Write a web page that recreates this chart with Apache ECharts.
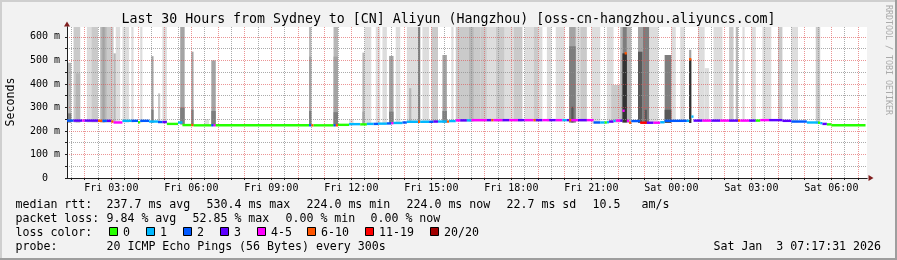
<!DOCTYPE html>
<html><head><meta charset="utf-8">
<script src="https://cdn.jsdelivr.net/npm/echarts@6/dist/echarts.min.js"></script>
<style>html,body{margin:0;padding:0;background:#f2f2f2}#c{width:897px;height:260px}</style>
</head><body><div id="c"></div><script>
// ---------- data (time in minutes since Fri 00:00, values in ms) ----------
const titleText = 'Last 30 Hours from Sydney to [CN] Aliyun (Hangzhou) [oss-cn-hangzhou.aliyuncs.com]';
const xTickValues = [180, 360, 540, 720, 900, 1080, 1260, 1440, 1620, 1800];
const xTickLabels = ['Fri 03:00','Fri 06:00','Fri 09:00','Fri 12:00','Fri 15:00','Fri 18:00','Fri 21:00','Sat 00:00','Sat 03:00','Sat 06:00'];
const yTickValues = [0, 100, 200, 300, 400, 500, 600];
const yTickLabels = ['0  ', '100 m', '200 m', '300 m', '400 m', '500 m', '600 m'];
const lossLabels = ['0', '1', '2', '3', '4-5', '6-10', '11-19', '20/20'];
const lossColors = ['#26ff00', '#00b8ff', '#0059ff', '#5e00ff', '#ff00ff', '#ff5500', '#ff0000', '#a10000'];
const smokeShades = ['#dddddd', '#cacaca', '#b7b7b7', '#a4a4a4', '#7e7e7e', '#585858', '#323232'];

// median rtt runs: [startMin, endMin, medianMs, lossClass]
const medianRuns = [
[80,95,244,2],[95,115,244,3],[115,120,244,4],[120,150,244,3],[150,160,243,5],[160,170,243,2],
[170,180,243,3],[180,185,240,5],[185,205,236,4],[205,225,243,1],[225,240,243,2],[240,245,237,0],
[245,265,243,2],[265,285,240,1],[285,295,238,2],[295,305,238,3],[305,330,230,0],[330,340,236,1],
[340,360,225,0],[360,365,225,5],[365,405,224,0],[405,410,224,2],[410,415,224,4],[415,625,224,0],
[625,630,224,2],[630,635,224,5],[635,680,224,0],[680,685,224,2],[685,690,224,5],[690,715,226,0],
[715,740,229,1],[740,755,228,0],[755,770,230,1],[770,780,230,2],[780,800,231,1],[800,810,232,2],
[810,815,233,4],[815,835,234,1],[835,845,236,2],[845,870,239,1],[870,875,239,5],[875,895,239,1],
[895,905,239,2],[905,915,240,3],[915,935,240,1],[935,940,240,5],[940,955,242,1],[955,965,245,4],
[965,980,245,3],[980,990,245,1],[990,1025,246,4],[1025,1035,246,3],[1035,1040,246,5],[1040,1060,246,4],
[1060,1075,246,3],[1075,1095,246,4],[1095,1110,246,3],[1110,1130,246,4],[1130,1135,246,5],[1135,1150,246,3],
[1150,1165,246,4],[1165,1180,246,3],[1180,1195,246,4],[1195,1205,246,1],[1205,1210,246,3],[1210,1215,246,5],
[1215,1230,246,4],[1230,1250,246,3],[1250,1265,246,4],[1265,1280,236,2],[1280,1290,236,1],[1290,1295,236,0],
[1295,1300,237,1],[1300,1310,240,3],[1310,1315,243,1],[1315,1325,244,4],[1325,1330,244,3],[1330,1335,286,4],
[1335,1340,530,5],[1340,1345,243,4],[1345,1350,235,5],[1350,1370,242,2],[1370,1385,235,6],[1385,1400,235,3],
[1400,1415,235,4],[1415,1425,237,1],[1425,1475,243,2],[1475,1480,243,1],[1480,1485,505,5],[1485,1490,261,1],
[1490,1510,244,3],[1510,1530,244,4],[1530,1550,244,3],[1550,1570,244,4],[1570,1590,244,3],[1590,1595,244,5],
[1595,1615,244,4],[1615,1630,244,3],[1630,1640,244,0],[1640,1660,246,4],[1660,1690,246,3],[1690,1710,243,3],
[1710,1745,240,2],[1745,1770,236,1],[1770,1775,235,0],[1775,1780,233,1],[1780,1790,230,3],[1790,1800,228,0],
[1800,1877,224,0]
];

// smoke bands: [startMin, endMin, lowMs, highMs, shade]
const smokeBands = [
[80,90,236,490,2],[80,90,236,275,4],[95,110,236,642,1],[100,110,236,445,2],[125,135,236,642,0],
[135,150,236,642,1],[155,170,236,642,2],[160,165,236,642,3],[170,185,236,642,1],[185,190,236,530,2],
[190,200,234,642,0],[205,220,236,642,0],[225,230,236,642,0],[245,250,236,642,0],[270,275,234,518,3],
[270,275,234,290,4],[285,290,234,360,1],[295,305,232,642,0],[335,345,228,642,3],[335,345,228,300,4],
[360,365,222,537,3],[360,365,222,290,4],[390,400,222,250,0],[405,415,222,500,3],[405,415,222,285,4],
[625,630,222,642,2],[625,630,222,516,3],[625,630,222,285,4],[680,690,222,642,2],[680,690,222,516,3],
[680,690,222,280,4],[715,725,224,250,0],[745,750,226,533,2],[745,750,226,282,3],[750,765,226,642,0],
[775,785,228,642,0],[790,800,228,642,0],[805,815,230,519,3],[805,815,230,282,4],[820,830,230,642,0],
[845,875,234,642,0],[850,855,234,382,2],[870,875,234,642,4],[880,895,236,642,0],[900,915,236,642,1],
[925,935,236,523,3],[925,935,236,285,4],[945,950,238,642,0],[955,1010,240,642,1],[985,995,240,642,2],
[1010,1025,240,642,1],[1025,1045,240,642,0],[1045,1065,240,642,1],[1065,1085,240,642,0],[1085,1105,240,642,1],
[1110,1130,240,642,0],[1130,1140,240,642,1],[1140,1150,240,642,0],[1160,1170,240,642,0],[1180,1200,240,642,0],
[1210,1225,236,642,3],[1210,1225,236,560,4],[1215,1220,236,303,5],[1225,1235,240,642,0],[1235,1250,240,642,1],
[1260,1280,232,642,0],[1295,1310,234,642,0],[1305,1325,236,396,1],[1325,1330,238,642,2],[1330,1340,236,642,4],
[1330,1340,236,530,6],[1340,1350,234,642,2],[1365,1375,234,642,3],[1365,1375,234,537,5],[1375,1390,232,642,4],
[1380,1385,232,290,5],[1390,1410,232,642,0],[1425,1440,234,523,4],[1425,1440,234,290,5],[1440,1450,238,642,0],
[1460,1470,240,642,0],[1480,1485,234,545,3],[1480,1485,234,505,6],[1500,1515,240,642,0],[1515,1525,240,467,0],
[1535,1555,240,642,0],[1570,1580,240,642,1],[1585,1590,240,642,2],[1600,1605,240,642,0],[1620,1630,240,642,0],
[1645,1665,242,642,0],[1680,1690,242,642,1],[1710,1725,236,642,0],[1765,1775,230,642,1]
];

const legendRtt = [['median rtt:',16],['237.7 ms avg',107],['530.4 ms max',207],['224.0 ms min',307],['224.0 ms now',407],['22.7 ms sd',507],['10.5',593],['am/s',642]];
const legendLoss = [['packet loss:',16],['9.84 % avg',107],['52.85 % max',193],['0.00 % min',286],['0.00 % now',371]];
const lossBoxX = [109, 146, 183, 220, 257, 307, 365, 430];
const probeText = '20 ICMP Echo Pings (56 Bytes) every 300s';
const dateText = 'Sat Jan  3 07:17:31 2026';

// ---------- chart ----------
const mono = '"DejaVu Sans Mono", monospace';
const xMin = 80.3, xMax = 1880.3, yMax = 642;
const hourMinutes = [], halfHourMinutes = [];
for (let m = 120; m <= 1860; m += 60) hourMinutes.push(m);
for (let m = 90; m <= 1860; m += 60) halfHourMinutes.push(m);
const yMinorValues = [50, 150, 250, 350, 450, 550];
const smokeSorted = smokeBands.slice().sort((a, b) => a[4] - b[4]);
const redGrid = 'rgba(222,79,79,0.6)';
const grayGrid = 'rgba(143,143,143,0.75)';
const axisColor = '#1f1f1f';
const arrowColor = '#801f1f';

function clipRect(r, cs) {
  return echarts.graphic.clipRectByRect(r, {x: cs.x, y: cs.y, width: cs.width, height: cs.height});
}

const gfx = [];
gfx.push({type:'rect', shape:{x:0, y:0, width:897, height:2}, style:{fill:'#cfcfcf'}, silent:true});
gfx.push({type:'rect', shape:{x:0, y:0, width:2, height:260}, style:{fill:'#cfcfcf'}, silent:true});
gfx.push({type:'rect', shape:{x:0, y:258, width:897, height:2}, style:{fill:'#9e9e9e'}, silent:true});
gfx.push({type:'rect', shape:{x:895, y:0, width:2, height:260}, style:{fill:'#9e9e9e'}, silent:true});
gfx.push({type:'text', x:448.5, y:19.5, style:{text:titleText, font:'13.25px ' + mono, fill:'#000', align:'center', verticalAlign:'middle'}});
gfx.push({type:'text', x:11, y:102, rotation:Math.PI/2, style:{text:'Seconds', font:'11.6px ' + mono, fill:'#000', align:'center', verticalAlign:'middle'}});
gfx.push({type:'text', x:888, y:60, rotation:-Math.PI/2, style:{text:'RRDTOOL / TOBI OETIKER', font:'8.3px ' + mono, fill:'#aaaaaa', align:'center', verticalAlign:'middle'}});
const lf = '11.6px ' + mono;
legendRtt.forEach(([t, x]) => gfx.push({type:'text', x:x - 0.5, y:204.5, style:{text:t, font:lf, fill:'#000', verticalAlign:'middle'}}));
legendLoss.forEach(([t, x]) => gfx.push({type:'text', x:x - 0.5, y:218.5, style:{text:t, font:lf, fill:'#000', verticalAlign:'middle'}}));
gfx.push({type:'text', x:15.5, y:232.5, style:{text:'loss color:', font:lf, fill:'#000', verticalAlign:'middle'}});
lossBoxX.forEach((x, i) => {
  gfx.push({type:'rect', shape:{x:x + 0.5, y:227.5, width:8, height:8}, style:{fill:lossColors[i], stroke:'#000', lineWidth:1}});
  gfx.push({type:'text', x:x + 14, y:232.5, style:{text:lossLabels[i], font:lf, fill:'#000', verticalAlign:'middle'}});
});
gfx.push({type:'text', x:15.5, y:246.5, style:{text:'probe:', font:lf, fill:'#000', verticalAlign:'middle'}});
gfx.push({type:'text', x:106.5, y:246.5, style:{text:probeText, font:lf, fill:'#000', verticalAlign:'middle'}});
gfx.push({type:'text', x:881, y:246.5, style:{text:dateText, font:lf, fill:'#000', align:'right', verticalAlign:'middle'}});

const option = {
  backgroundColor: '#f2f2f2',
  animation: false,
  grid: {left: 67, top: 27, width: 800, height: 151, show: true, backgroundColor: '#ffffff', borderWidth: 0},
  xAxis: [{
    type: 'value', min: xMin, max: xMax, position: 'bottom', z: 3,
    axisLine: {show: true, onZero: false, lineStyle: {color: axisColor, width: 1}},
    axisTick: {show: true, length: 2, customValues: hourMinutes, lineStyle: {color: axisColor}},
    axisLabel: {show: true, customValues: xTickValues, margin: 5, fontFamily: mono, fontSize: 10, color: '#000',
      formatter: v => { const i = xTickValues.indexOf(Math.round(v)); return i < 0 ? '' : xTickLabels[i]; }},
    splitLine: {show: true, lineStyle: {color: redGrid, type: [1, 1], width: 1}}
  }, {
    type: 'value', min: xMin, max: xMax, position: 'bottom', z: 1,
    axisLine: {show: true, onZero: false, symbol: ['none', 'triangle'], symbolSize: [6, 5], symbolOffset: [0, 4], lineStyle: {color: arrowColor}},
    axisTick: {show: false}, axisLabel: {show: false}, splitLine: {show: false}
  }, {
    type: 'value', min: xMin, max: xMax, position: 'bottom', z: 2.9,
    axisLine: {show: false},
    axisTick: {show: true, length: 2, customValues: halfHourMinutes, lineStyle: {color: axisColor}},
    axisLabel: {show: false},
    splitLine: {show: true, lineStyle: {color: grayGrid, type: [1, 1], width: 1}}
  }],
  yAxis: [{
    type: 'value', min: 0, max: yMax, interval: 100, position: 'left', z: 3,
    axisLine: {show: true, lineStyle: {color: axisColor, width: 1}},
    axisTick: {show: true, length: 2, lineStyle: {color: axisColor}},
    axisLabel: {margin: 7, fontFamily: mono, fontSize: 10, color: '#000', showMaxLabel: false,
      formatter: v => { const i = yTickValues.indexOf(v); return i < 0 ? '' : yTickLabels[i]; }},
    splitLine: {show: true, showMaxLine: false, lineStyle: {color: redGrid, type: [1, 1], width: 1}}
  }, {
    type: 'value', min: 0, max: yMax, position: 'left', z: 1,
    axisLine: {show: true, onZero: false, symbol: ['none', 'triangle'], symbolSize: [6, 5], symbolOffset: [0, 3], lineStyle: {color: arrowColor}},
    axisTick: {show: false}, axisLabel: {show: false}, splitLine: {show: false}
  }, {
    type: 'value', min: 0, max: yMax, position: 'left', z: 2.9,
    axisLine: {show: false},
    axisTick: {show: true, length: 2, customValues: yMinorValues, lineStyle: {color: axisColor}},
    axisLabel: {show: false},
    splitLine: {show: true, lineStyle: {color: grayGrid, type: [1, 1], width: 1}}
  }],
  series: [{
    type: 'custom', name: 'smoke', xAxisIndex: 0, yAxisIndex: 0, z: 2, silent: true,
    data: smokeSorted, encode: {x: [0, 1], y: [2, 3]},
    renderItem: (params, api) => {
      const a = api.coord([api.value(0), api.value(3)]);
      const b = api.coord([api.value(1), api.value(2)]);
      const r = clipRect({x: a[0], y: a[1], width: b[0] - a[0], height: b[1] - a[1]}, params.coordSys);
      return r && {type: 'rect', shape: r, style: {fill: smokeShades[api.value(4)]}};
    }
  }, {
    type: 'custom', name: 'median', xAxisIndex: 0, yAxisIndex: 0, z: 4, silent: true,
    data: medianRuns, encode: {x: [0, 1], y: 2},
    renderItem: (params, api) => {
      const a = api.coord([api.value(0), api.value(2)]);
      const b = api.coord([api.value(1), api.value(2)]);
      const r = clipRect({x: a[0], y: a[1] - 1.2, width: b[0] - a[0], height: 2.4}, params.coordSys);
      return r && {type: 'rect', shape: r, style: {fill: lossColors[api.value(3)]}};
    }
  }],
  graphic: gfx
};
const chart = echarts.init(document.getElementById('c'), null, {renderer: 'canvas', width: 897, height: 260});
chart.setOption(option);
</script></body></html>
